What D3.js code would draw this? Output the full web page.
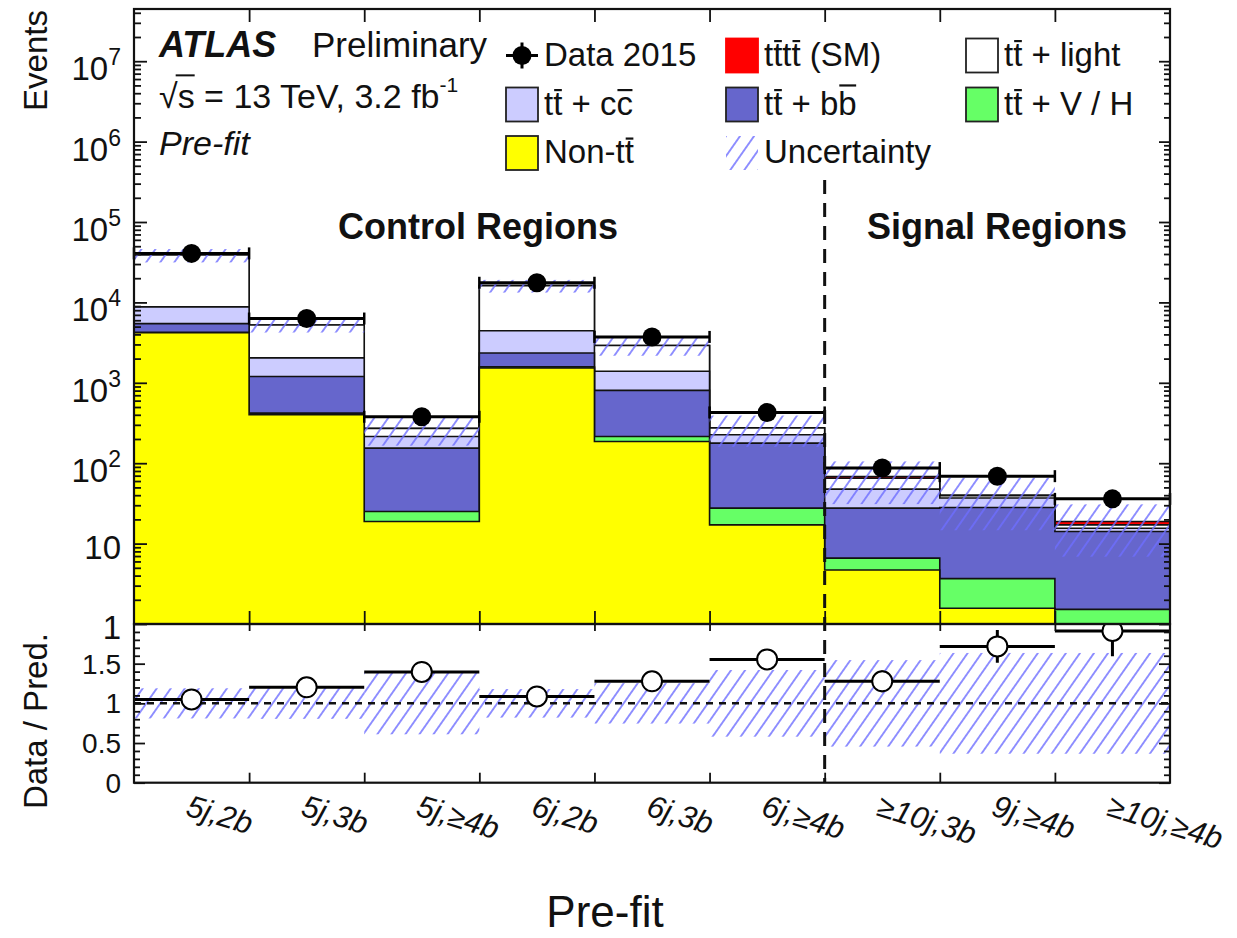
<!DOCTYPE html>
<html>
<head>
<meta charset="utf-8">
<script src="https://cdn.jsdelivr.net/npm/d3@7"></script>
<style>
  body { margin: 0; background: #fff; }
  svg { display: block; }
  text { font-family: "Liberation Sans", Arial, Helvetica, sans-serif; fill: #111; }
</style>
</head>
<body>
<svg id="chart" width="1237" height="938"></svg>
<script>
// ---- analysis regions (bins) ----
const categories = ["5j,2b", "5j,3b", "5j,\u22654b", "6j,2b", "6j,3b", "6j,\u22654b", "\u226510j,3b", "9j,\u22654b", "\u226510j,\u22654b"];

// ---- pre-fit background yields per region ----
const nonTT   = [4200, 400, 18.8, 1530, 186, 17.1, 4.7, 1.57, 0.8];
const ttVH    = [40, 20, 6.3, 50, 29, 10.5, 1.9, 2.1, 0.72];
const ttBB    = [1200, 780, 129, 770, 590, 150, 21, 24.4, 12.6];
const ttCC    = [3350, 840, 61, 2100, 585, 48, 20, 8.8, 1.4];
const ttLight = [30000, 3200, 55, 11700, 1520, 48, 17.5, 2.5, 1.6];
const tttt    = [1, 1, 0.8, 1, 1.5, 1.8, 3, 0.8, 1.7];

// ---- observed data and uncertainties ----
const data2015 = [40700, 6300, 378, 17550, 3720, 428, 87, 69, 36];
const dataErr  = [202, 79, 19.4, 132, 61, 20.7, 9.3, 8.3, 6.0];
const relUnc   = [0.19, 0.195, 0.39, 0.18, 0.255, 0.42, 0.545, 0.635, 0.635];

// ---- axis tick values ----
const mainMajorTicks = [1, 10, 1e2, 1e3, 1e4, 1e5, 1e6, 1e7];
const mainTickExp    = ["", "", "2", "3", "4", "5", "6", "7"];
const ratioMajorTicks = [0, 0.5, 1, 1.5];
const ratioTickLabels = ["0", "0.5", "1", "1.5"];

// ---- layout ----
const L = 134, R = 1170, T = 9, MB = 624, RB = 782.7;
const FONT = 33;

const svg = d3.select("#chart");
const defs = svg.append("defs");

defs.append("pattern")
  .attr("id", "hatch").attr("patternUnits", "userSpaceOnUse")
  .attr("width", 11.5).attr("height", 11.5)
  .attr("patternTransform", "rotate(35)")
  .append("line")
  .attr("x1", 5.75).attr("y1", -1).attr("x2", 5.75).attr("y2", 12.5)
  .attr("stroke", "#6e6eff").attr("stroke-width", 1.5);

defs.append("clipPath").attr("id", "clipMain")
  .append("rect").attr("x", L).attr("y", T).attr("width", R - L).attr("height", MB - T);
defs.append("clipPath").attr("id", "clipRatio")
  .append("rect").attr("x", L).attr("y", MB).attr("width", R - L).attr("height", RB - MB);

// ---- scales ----
const x = d3.scaleBand().domain(categories).range([L, R]).padding(0);
const bw = x.bandwidth();
const y = d3.scaleLog().domain([1, 4.46e7]).range([MB, T]).clamp(true);
const yr = d3.scaleLinear().domain([0, 2]).range([RB, MB]);

// ---- stacked backgrounds ----
const keys = ["nonTT", "ttVH", "ttBB", "ttCC", "ttLight", "tttt"];
const colors = {
  nonTT: "#ffff00", ttVH: "#66ff66", ttBB: "#6666cc",
  ttCC: "#ccccff", ttLight: "#ffffff", tttt: "#ff0000"
};
const rows = categories.map((c, i) => ({
  cat: c, nonTT: nonTT[i], ttVH: ttVH[i], ttBB: ttBB[i],
  ttCC: ttCC[i], ttLight: ttLight[i], tttt: tttt[i]
}));
const stacked = d3.stack().keys(keys)(rows);
const totals = rows.map(r => d3.sum(keys, k => r[k]));

// step points: one per bin left edge plus closing right edge
function stepPoints(vals) {
  const pts = categories.map((c, i) => ({ x: x(c), v: vals[i] }));
  pts.push({ x: R, v: vals[vals.length - 1] });
  return pts;
}

const gMain = svg.append("g").attr("clip-path", "url(#clipMain)");
const area = d3.area().curve(d3.curveStepAfter)
  .x(d => d.x).y0(MB).y1(d => y(d.v));

stacked.slice().reverse().forEach(layer => {
  const tops = layer.map(d => d[1]);
  gMain.append("path")
    .attr("d", area(stepPoints(tops)))
    .attr("fill", colors[layer.key])
    .attr("stroke", "#111").attr("stroke-width", 1.6);
});

// uncertainty band on total prediction
gMain.selectAll("rect.unc").data(categories).join("rect")
  .attr("class", "unc")
  .attr("x", c => x(c)).attr("width", bw)
  .attr("y", (c, i) => y(totals[i] * (1 + relUnc[i])))
  .attr("height", (c, i) => y(totals[i] * (1 - relUnc[i])) - y(totals[i] * (1 + relUnc[i])))
  .attr("fill", "url(#hatch)");

// data points with bin-width bars and end caps
const gData = svg.append("g");
categories.forEach((c, i) => {
  const yc = y(data2015[i]);
  const x0 = x(c), x1 = x(c) + bw, xc = x(c) + bw / 2;
  gData.append("line").attr("x1", x0).attr("x2", x1).attr("y1", yc).attr("y2", yc)
    .attr("stroke", "#000").attr("stroke-width", 3);
  [x0, x1].forEach(xe => gData.append("line")
    .attr("x1", xe).attr("x2", xe).attr("y1", yc - 6).attr("y2", yc + 6)
    .attr("stroke", "#000").attr("stroke-width", 2.5));
  gData.append("line").attr("x1", xc).attr("x2", xc)
    .attr("y1", y(data2015[i] + dataErr[i])).attr("y2", y(data2015[i] - dataErr[i]))
    .attr("stroke", "#000").attr("stroke-width", 3);
  gData.append("circle").attr("cx", xc).attr("cy", yc).attr("r", 9.5).attr("fill", "#000");
});

// ---- ratio panel ----
const ratio = data2015.map((d, i) => d / totals[i]);
const ratioErr = data2015.map((d, i) => ratio[i] * dataErr[i] / d);
const gRatio = svg.append("g").attr("clip-path", "url(#clipRatio)");

gRatio.selectAll("rect.runc").data(categories).join("rect")
  .attr("class", "runc")
  .attr("x", c => x(c)).attr("width", bw)
  .attr("y", (c, i) => yr(1 + relUnc[i]))
  .attr("height", (c, i) => yr(1 - relUnc[i]) - yr(1 + relUnc[i]))
  .attr("fill", "url(#hatch)");

gRatio.append("line").attr("x1", L).attr("x2", R).attr("y1", yr(1)).attr("y2", yr(1))
  .attr("stroke", "#111").attr("stroke-width", 2.5).attr("stroke-dasharray", "7,6");

categories.forEach((c, i) => {
  const yc = yr(ratio[i]);
  const xc = x(c) + bw / 2;
  gRatio.append("line").attr("x1", x(c)).attr("x2", x(c) + bw).attr("y1", yc).attr("y2", yc)
    .attr("stroke", "#000").attr("stroke-width", 3);
  gRatio.append("line").attr("x1", xc).attr("x2", xc)
    .attr("y1", yr(ratio[i] + ratioErr[i])).attr("y2", yr(ratio[i] - ratioErr[i]))
    .attr("stroke", "#000").attr("stroke-width", 3);
  gRatio.append("circle").attr("cx", xc).attr("cy", yc).attr("r", 10)
    .attr("fill", "#fff").attr("stroke", "#000").attr("stroke-width", 2);
});

// ---- frames and ticks ----
const gAx = svg.append("g");
function noDomain(g) { g.select(".domain").remove(); }

const mainMinor = [];
for (let k = 0; k < 8; k++) for (let m = 2; m <= 9; m++) {
  const v = m * Math.pow(10, k);
  if (v < 4.46e7) mainMinor.push(v);
}
gAx.append("g").attr("transform", `translate(${L},0)`)
  .call(d3.axisLeft(y).tickValues(mainMajorTicks).tickSize(-13).tickFormat(""))
  .call(noDomain);
gAx.append("g").attr("transform", `translate(${L},0)`)
  .call(d3.axisLeft(y).tickValues(mainMinor).tickSize(-7).tickFormat(""))
  .call(noDomain);
gAx.append("g").attr("transform", `translate(${R},0)`)
  .call(d3.axisRight(y).tickValues(mainMajorTicks).tickSize(-11).tickFormat(""))
  .call(noDomain);
gAx.append("g").attr("transform", `translate(${R},0)`)
  .call(d3.axisRight(y).tickValues(mainMinor).tickSize(-6).tickFormat(""))
  .call(noDomain);

const ratioMinor = d3.range(0, 20).map(i => i / 10).filter(v => Math.abs(v * 2 - Math.round(v * 2)) > 1e-6);
gAx.append("g").attr("transform", `translate(${L},0)`)
  .call(d3.axisLeft(yr).tickValues(ratioMajorTicks).tickSize(-11).tickFormat(""))
  .call(noDomain);
gAx.append("g").attr("transform", `translate(${L},0)`)
  .call(d3.axisLeft(yr).tickValues(ratioMinor).tickSize(-6).tickFormat(""))
  .call(noDomain);
gAx.append("g").attr("transform", `translate(${R},0)`)
  .call(d3.axisRight(yr).tickValues(ratioMajorTicks).tickSize(-11).tickFormat(""))
  .call(noDomain);
gAx.append("g").attr("transform", `translate(${R},0)`)
  .call(d3.axisRight(yr).tickValues(ratioMinor).tickSize(-6).tickFormat(""))
  .call(noDomain);

// bin-edge ticks
const edges = categories.slice(1).map(c => x(c));
const xe = d3.scaleLinear().domain([L, R]).range([L, R]);
gAx.append("g").attr("transform", `translate(0,${T})`)
  .call(d3.axisTop(xe).tickValues(edges).tickSize(-13).tickFormat("")).call(noDomain);
gAx.append("g").attr("transform", `translate(0,${MB})`)
  .call(d3.axisBottom(xe).tickValues(edges).tickSize(-13).tickFormat("")).call(noDomain);
gAx.append("g").attr("transform", `translate(0,${MB})`)
  .call(d3.axisTop(xe).tickValues(edges).tickSize(-7).tickFormat("")).call(noDomain);
gAx.append("g").attr("transform", `translate(0,${RB})`)
  .call(d3.axisBottom(xe).tickValues(edges).tickSize(-10).tickFormat("")).call(noDomain);
gAx.selectAll(".tick line").attr("stroke", "#111").attr("stroke-width", 1.8);

gAx.append("rect").attr("x", L).attr("y", T).attr("width", R - L).attr("height", MB - T)
  .attr("fill", "none").attr("stroke", "#111").attr("stroke-width", 2.2);
gAx.append("rect").attr("x", L).attr("y", MB).attr("width", R - L).attr("height", RB - MB)
  .attr("fill", "none").attr("stroke", "#111").attr("stroke-width", 2.2);

// region divider
const divX = x(categories[6]);
svg.append("line").attr("x1", divX).attr("x2", divX).attr("y1", 180).attr("y2", RB)
  .attr("stroke", "#111").attr("stroke-width", 3).attr("stroke-dasharray", "14,9");

// ---- tick labels ----
const gLab = svg.append("g");
mainMajorTicks.forEach((v, i) => {
  const yy = y(v);
  const t = gLab.append("text").attr("x", 121).attr("text-anchor", "end")
    .attr("font-size", FONT);
  if (mainTickExp[i] === "") {
    t.attr("y", yy + 15).text(v === 1 ? "1" : "10");
  } else {
    t.attr("y", yy + 19);
    t.append("tspan").text("10");
    t.append("tspan").attr("font-size", 23).attr("dy", -15).text(mainTickExp[i]);
  }
});
ratioMajorTicks.forEach((v, i) => {
  gLab.append("text").attr("x", 121).attr("y", yr(v) + 10).attr("text-anchor", "end")
    .attr("font-size", 28).text(ratioTickLabels[i]);
});
categories.forEach(c => {
  gLab.append("text")
    .attr("transform", `translate(${x(c) + bw / 2 - 7},815) rotate(17)`)
    .attr("font-size", 31).attr("font-style", "italic").text(c);
});

// axis titles
gLab.append("text").attr("transform", `translate(47,${T + 1}) rotate(-90)`)
  .attr("text-anchor", "end").attr("font-size", FONT).text("Events");
gLab.append("text").attr("transform", `translate(47,${MB + 9}) rotate(-90)`)
  .attr("text-anchor", "end").attr("font-size", FONT).text("Data / Pred.");
gLab.append("text").attr("x", 605).attr("y", 927).attr("text-anchor", "middle")
  .attr("font-size", 44).text("Pre-fit");

// ---- ATLAS label block ----
gLab.append("text").attr("x", 159).attr("y", 57).attr("font-size", 36)
  .attr("font-weight", "bold").attr("font-style", "italic").text("ATLAS");
gLab.append("text").attr("x", 312).attr("y", 57).attr("font-size", 35).text("Preliminary");
const sq = gLab.append("text").attr("x", 159).attr("y", 108).attr("font-size", 34);
sq.append("tspan").text("\u221As = 13 TeV, 3.2 fb");
sq.append("tspan").attr("font-size", 21).attr("dy", -16).text("-1");
{
  const n = sq.node();
  const e0 = n.getExtentOfChar(0), e1 = n.getExtentOfChar(1);
  gLab.append("line").attr("x1", e0.x + e0.width - 2).attr("x2", e1.x + e1.width)
    .attr("y1", 108 - 0.96 * 34).attr("y2", 108 - 0.96 * 34)
    .attr("stroke", "#111").attr("stroke-width", 2);
}
gLab.append("text").attr("x", 159).attr("y", 155).attr("font-size", 34)
  .attr("font-style", "italic").text("Pre-fit");

// region labels
gLab.append("text").attr("x", 478).attr("y", 239).attr("text-anchor", "middle")
  .attr("font-size", 36).attr("font-weight", "bold").text("Control Regions");
gLab.append("text").attr("x", 997).attr("y", 239).attr("text-anchor", "middle")
  .attr("font-size", 36).attr("font-weight", "bold").text("Signal Regions");

// ---- legend ----
function barredText(g, tx, ty, str, bars) {
  const t = g.append("text").attr("x", tx).attr("y", ty).attr("font-size", FONT).text(str);
  const n = t.node();
  bars.forEach(b => {
    const e = n.getExtentOfChar(b.i);
    const yy = ty - b.h * FONT;
    g.append("line").attr("x1", e.x + 1).attr("x2", e.x + e.width - 0.5)
      .attr("y1", yy).attr("y2", yy).attr("stroke", "#111").attr("stroke-width", 2.2);
  });
}
const colX = [506, 726, 966];
const rowC = [55.5, 104.5, 153];
const bwL = 32, bhL = 34;
const legendEntries = [
  { col: 0, row: 0, type: "data", label: "Data 2015", bars: [] },
  { col: 1, row: 0, type: "box", fill: colors.tttt, stroke: "#ff0000", label: "tttt (SM)", bars: [{ i: 1, h: 0.74 }, { i: 3, h: 0.74 }] },
  { col: 2, row: 0, type: "box", fill: colors.ttLight, label: "tt + light", bars: [{ i: 1, h: 0.74 }] },
  { col: 0, row: 1, type: "box", fill: colors.ttCC, label: "tt + cc", bars: [{ i: 1, h: 0.74 }, { i: 6, h: 0.74 }] },
  { col: 1, row: 1, type: "box", fill: colors.ttBB, label: "tt + bb", bars: [{ i: 1, h: 0.74 }, { i: 6, h: 0.88 }] },
  { col: 2, row: 1, type: "box", fill: colors.ttVH, label: "tt + V / H", bars: [{ i: 1, h: 0.74 }] },
  { col: 0, row: 2, type: "box", fill: colors.nonTT, label: "Non-tt", bars: [{ i: 5, h: 0.74 }] },
  { col: 1, row: 2, type: "hatch", label: "Uncertainty", bars: [] }
];
const gLeg = svg.append("g");
legendEntries.forEach(e => {
  const bx = colX[e.col], cy = rowC[e.row];
  if (e.type === "data") {
    const cx = bx + bwL / 2;
    gLeg.append("line").attr("x1", bx).attr("x2", bx + bwL).attr("y1", cy).attr("y2", cy)
      .attr("stroke", "#000").attr("stroke-width", 3);
    gLeg.append("line").attr("x1", cx).attr("x2", cx).attr("y1", cy - 13).attr("y2", cy + 13)
      .attr("stroke", "#000").attr("stroke-width", 3);
    gLeg.append("circle").attr("cx", cx).attr("cy", cy).attr("r", 9.5).attr("fill", "#000");
  } else if (e.type === "hatch") {
    gLeg.append("rect").attr("x", bx).attr("y", cy - bhL / 2).attr("width", bwL).attr("height", bhL)
      .attr("fill", "url(#hatch)");
  } else {
    gLeg.append("rect").attr("x", bx).attr("y", cy - bhL / 2).attr("width", bwL).attr("height", bhL)
      .attr("fill", e.fill).attr("stroke", e.stroke || "#222").attr("stroke-width", 1.8);
  }
  barredText(gLeg, bx + bwL + 6, cy + 10, e.label, e.bars);
});
</script>
</body>
</html>
